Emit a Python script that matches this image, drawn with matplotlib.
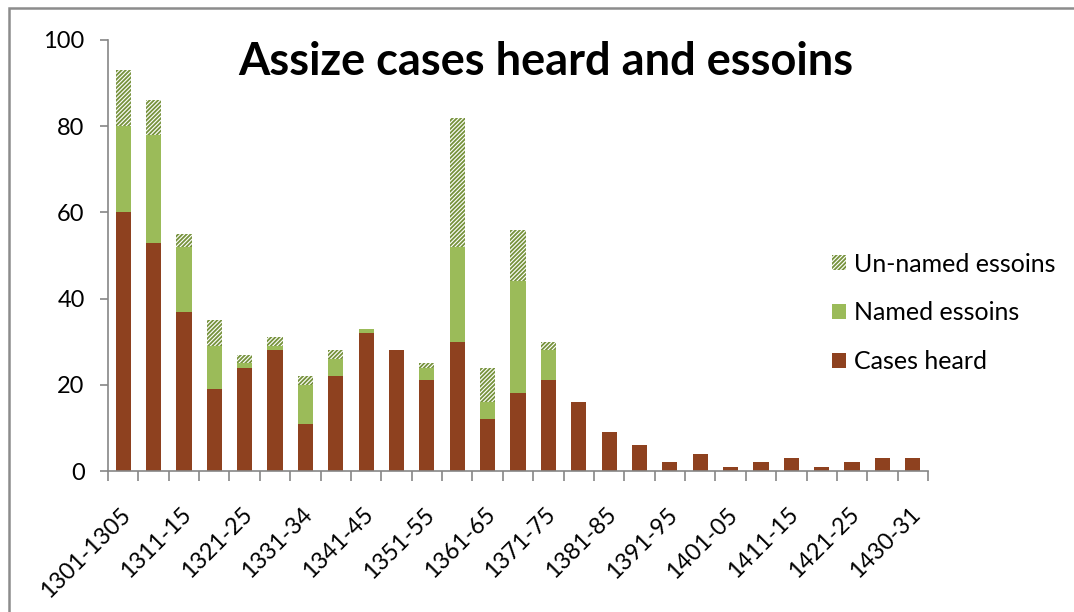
import matplotlib
matplotlib.use("Agg")
import matplotlib.pyplot as plt
import matplotlib.transforms as mtransforms
from matplotlib.patches import Rectangle
import numpy as np

periods = ["1301-1305", "1306-10", "1311-15", "1316-20", "1321-25", "1326-30",
           "1331-34", "1335-40", "1341-45", "1346-50", "1351-55", "1356-60",
           "1361-65", "1366-70", "1371-75", "1376-80", "1381-85", "1386-90",
           "1391-95", "1396-1400", "1401-05", "1406-10", "1411-15", "1416-20",
           "1421-25", "1426-29", "1430-31"]
cases_heard = [60, 53, 37, 19, 24, 28, 11, 22, 32, 28, 21, 30, 12, 18, 21,
               16, 9, 6, 2, 4, 1, 2, 3, 1, 2, 3, 3]
named_essoins = [20, 25, 15, 10, 1, 1, 9, 4, 1, 0, 3, 22, 4, 26, 7,
                 0, 0, 0, 0, 0, 0, 0, 0, 0, 0, 0, 0]
unnamed_essoins = [13, 8, 3, 6, 2, 2, 2, 2, 0, 0, 1, 30, 8, 12, 2,
                   0, 0, 0, 0, 0, 0, 0, 0, 0, 0, 0, 0]
y_ticks = [0, 20, 40, 60, 80, 100]

RED = "#8E411F"
GREEN = "#9BBB59"
HATCH = "#76923C"
AXIS = "#868686"

plt.rcParams["font.family"] = ["Lato", "DejaVu Sans"]
plt.rcParams["hatch.linewidth"] = 1.3

W, H = 1074, 612
fig = plt.figure(figsize=(W / 100, H / 100), dpi=100)
ax = fig.add_axes([108 / W, 1 - 471 / H, (928 - 108) / W, (471 - 40) / H])

x = np.arange(len(periods))
c = np.array(cases_heard, float)
n = np.array(named_essoins, float)
u = np.array(unnamed_essoins, float)

ax.bar(x, c, width=0.5, color=RED, linewidth=0, label="Cases heard")
ax.bar(x, n, width=0.5, bottom=c, color=GREEN, linewidth=0, label="Named essoins")
ax.bar(x, u, width=0.5, bottom=c + n, facecolor="white", edgecolor=HATCH,
       hatch="////////", linewidth=0, label="Un-named essoins")

ax.set_xlim(-0.5, len(periods) - 0.5)
ax.set_ylim(0, 100)

for s in ["top", "right"]:
    ax.spines[s].set_visible(False)
for s in ["left", "bottom"]:
    ax.spines[s].set_color(AXIS)
    ax.spines[s].set_linewidth(1.2)

ax.set_yticks(y_ticks)
ax.set_yticklabels([str(v) for v in y_ticks])
ax.tick_params(axis="y", direction="out", length=5.8, width=1.2, color=AXIS,
               labelsize=17, pad=11, labelcolor="black")

# x: tick marks between categories, labels on every other category
ax.set_xticks(np.arange(-0.5, len(periods), 1.0), minor=True)
ax.set_xticks(x[::2])
ax.set_xticklabels(periods[::2])
ax.tick_params(axis="x", which="minor", direction="out", length=7, width=1.2, color=AXIS)
ax.tick_params(axis="x", which="major", length=0, pad=29, labelsize=16.8)
offset = mtransforms.ScaledTranslation(4 / 100, 0, fig.dpi_scale_trans)
for lab in ax.get_xticklabels():
    lab.set_rotation(45)
    lab.set_ha("right")
    lab.set_va("center")
    lab.set_rotation_mode("anchor")
    lab.set_transform(lab.get_transform() + offset)

fig.text(546 / W, 1 - 62 / H, "Assize cases heard and essoins", ha="center",
         va="center", fontsize=32.5, fontweight="bold")

handles, labels = ax.get_legend_handles_labels()
leg = fig.legend(handles[::-1], labels[::-1], loc="center left",
                 bbox_to_anchor=(832 / W, 1 - 313 / H), frameon=False,
                 fontsize=18, handlelength=0.54, handleheight=0.54,
                 handletextpad=0.36, labelspacing=1.03, borderaxespad=0,
                 borderpad=0)

# chart area border
fig.patches.append(Rectangle((9 / W, -0.1), 1.2, 1 - 8 / H + 0.1,
                             transform=fig.transFigure, fill=False,
                             edgecolor="#8C8C8C", linewidth=1.8))

fig.savefig("out.png", dpi=100)
